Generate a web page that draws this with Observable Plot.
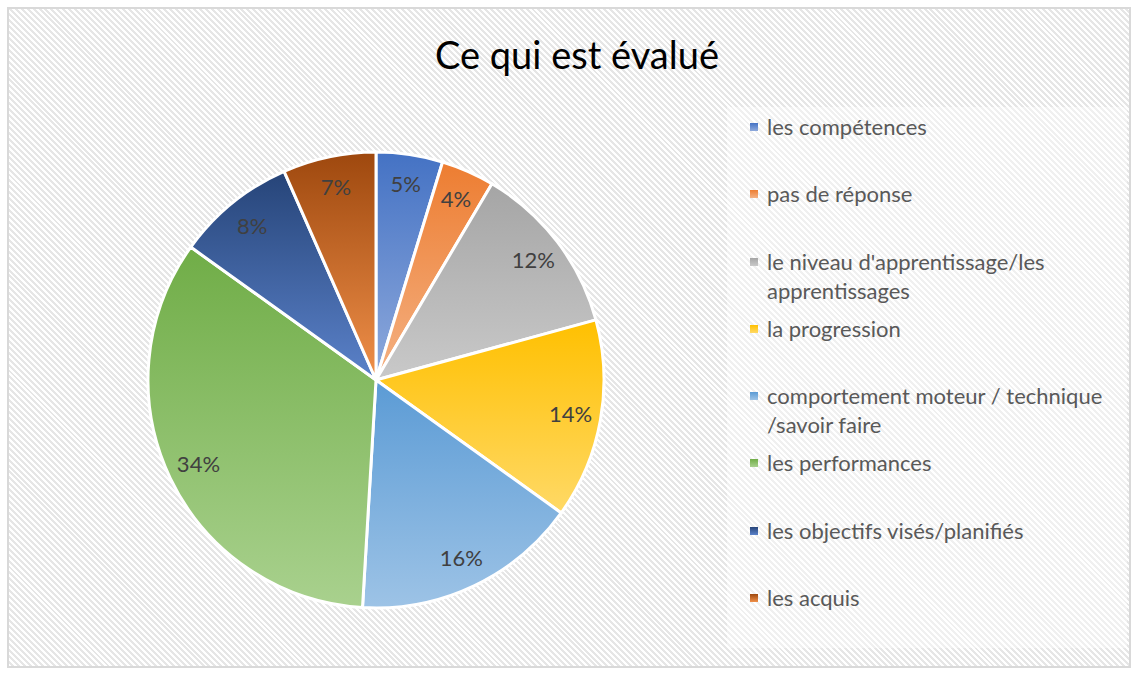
<!DOCTYPE html>
<html>
<head>
<meta charset="utf-8">
<script src="https://cdn.jsdelivr.net/npm/d3@7"></script>
<script src="https://cdn.jsdelivr.net/npm/@observablehq/plot@0.6"></script>
<style>
  html, body { margin: 0; padding: 0; background: #fff; }
  #chart { position: relative; width: 1137px; height: 673px; overflow: hidden; font-family: Lato, "Open Sans", sans-serif; }
  #frame { position: absolute; left: 7px; top: 7px; width: 1120px; height: 657px; border: 2px solid #d9d9d9;
    background: repeating-linear-gradient(45deg, #ffffff 0px, #ffffff 2.1px, #e6e6e6 2.1px, #e6e6e6 4.2px); }
  #title { position: absolute; left: 0; top: 35px; width: 1154px; text-align: center; font-size: 38px; line-height: 1; color: #000; }
  #plot { position: absolute; left: 0; top: 100px; }
  #legendbox { position: absolute; left: 727px; top: 107px; width: 400px; height: 541px; background: rgba(255,255,255,0.4); }
  #legend { position: absolute; left: 750px; top: 112px; }
  .item { height: 67.3px; position: relative; }
  .sw { position: absolute; left: 0; top: 11px; width: 8px; height: 8px; }
  .lab { position: absolute; left: 17px; top: 0; font-size: 22px; line-height: 29px; color: #595959; white-space: nowrap; }
</style>
</head>
<body>
<div id="chart">
  <div id="frame"></div>
  <div id="title"></div>
  <div id="plot"></div>
  <div id="legendbox"></div>
  <div id="legend"></div>
</div>
<script>
const title = "Ce qui est évalué";
const categories = [
  "les compétences",
  "pas de réponse",
  "le niveau d'apprentissage/les apprentissages",
  "la progression",
  "comportement moteur / technique /savoir faire",
  "les performances",
  "les objectifs visés/planifiés",
  "les acquis"
];
const legendLines = [
  ["les compétences"],
  ["pas de réponse"],
  ["le niveau d'apprentissage/les", "apprentissages"],
  ["la progression"],
  ["comportement moteur / technique", "/savoir faire"],
  ["les performances"],
  ["les objectifs visés/planifiés"],
  ["les acquis"]
];
const counts = [5, 4, 13, 15, 17, 36, 9, 7];
const colorsTop = ["#4472C4", "#ED7D31", "#A5A5A5", "#FFC000", "#5B9BD5", "#70AD47", "#264478", "#9E480E"];
const colorsBottom = ["#8FAADC", "#F4B183", "#C9C9C9", "#FFD966", "#9DC3E6", "#A9D18E", "#5B82CA", "#F0904A"];

const total = d3.sum(counts);
const data = categories.map((c, i) => ({category: c, count: counts[i], i}));
const arcs = d3.pie().sort(null).value(d => d.count)(data);
const labelRadius = 0.865;
const labels = arcs.map(a => {
  const m = (a.startAngle + a.endAngle) / 2;
  return {
    lx: labelRadius * Math.sin(m),
    ly: labelRadius * Math.cos(m),
    text: Math.round(a.data.count / total * 100) + "%"
  };
});

const W = 720, H = 560, CX = 376, CY = 280, R = 228;

function pieMark(index, scales) {
  const sx = scales && scales.x ? scales.x : (v => CX + v * R);
  const sy = scales && scales.y ? scales.y : (v => CY - v * R);
  const cx = sx(0), cy = sy(0), rad = sx(1) - sx(0);
  const g = d3.create("svg:g");
  const defs = g.append("defs");
  arcs.forEach((a, i) => {
    const lg = defs.append("linearGradient").attr("id", "grad" + i)
      .attr("x1", 0).attr("y1", 0).attr("x2", 0).attr("y2", 1);
    lg.append("stop").attr("offset", "0%").attr("stop-color", colorsTop[i]);
    lg.append("stop").attr("offset", "100%").attr("stop-color", colorsBottom[i]);
  });
  const arcGen = d3.arc().innerRadius(0).outerRadius(rad);
  g.append("g").attr("transform", `translate(${cx},${cy})`)
    .selectAll("path").data(arcs).join("path")
    .attr("d", arcGen)
    .attr("fill", (d, i) => `url(#grad${i})`)
    .attr("stroke", "#fff")
    .attr("stroke-width", 3)
    .attr("stroke-linejoin", "round");
  return g.node();
}

const plot = Plot.plot({
  width: W,
  height: H,
  margin: 0,
  style: {background: "transparent", overflow: "visible"},
  x: {domain: [-CX / R, (W - CX) / R], axis: null},
  y: {domain: [-(H - CY) / R, CY / R], axis: null},
  marks: [
    pieMark,
    Plot.text(labels, {
      x: "lx", y: "ly", text: "text",
      fontSize: 22, fill: "#404040",
      fontFamily: "Lato, 'Open Sans', sans-serif"
    })
  ]
});
document.getElementById("plot").appendChild(plot);
document.getElementById("title").textContent = title;

const legend = d3.select("#legend");
categories.forEach((c, i) => {
  const item = legend.append("div").attr("class", "item");
  item.append("div").attr("class", "sw")
    .style("background", `linear-gradient(${colorsTop[i]}, ${colorsBottom[i]})`);
  item.append("div").attr("class", "lab").html(legendLines[i].join("<br>"));
});
</script>
</body>
</html>
